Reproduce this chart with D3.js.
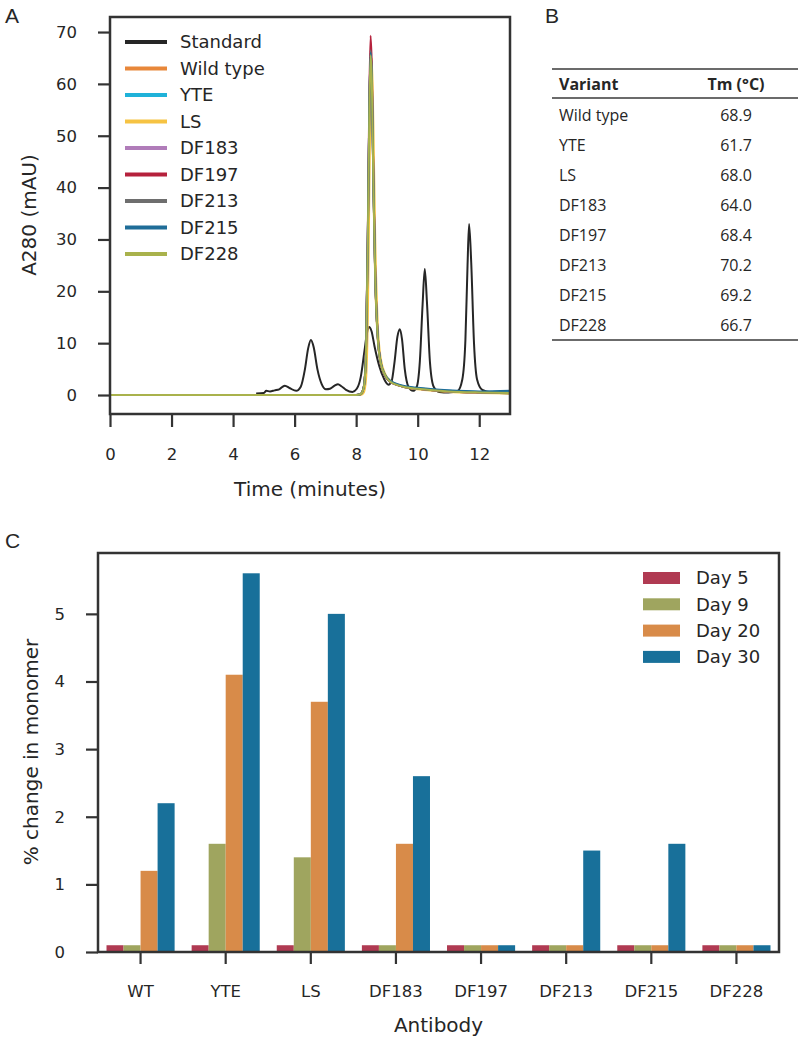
<!DOCTYPE html>
<html><head><meta charset="utf-8">
<script src="https://cdn.jsdelivr.net/npm/d3@7"></script>
<style>
body{margin:0;background:#fff;}
svg{display:block;}
text{font-family:"DejaVu Sans",sans-serif;fill:#262626;}
</style></head>
<body><svg id="c" width="800" height="1038"></svg>
<script>
// ---------- Panel A data ----------
const stdTime = [4.75,5.0,5.08,5.2,5.35,5.5,5.68,5.85,6.05,6.2,6.33,6.44,6.53,6.62,6.74,6.88,7.02,7.15,7.3,7.41,7.52,7.67,7.88,8.02,8.15,8.27,8.36,8.42,8.5,8.6,8.75,8.9,9.05,9.15,9.25,9.34,9.42,9.49,9.58,9.7,9.85,9.97,10.07,10.16,10.23,10.3,10.4,10.52,10.7,11.0,11.3,11.45,11.55,11.62,11.67,11.74,11.83,11.93,12.1,12.4,13.0];
const stdVals = [0.3,0.4,0.8,0.7,0.9,1.1,1.8,1.3,0.8,1.6,4.8,9.0,10.6,9.2,5.0,2.1,1.1,1.2,1.8,2.1,1.7,1.0,0.6,1.2,3.5,8.5,12.2,13.1,12.3,9.3,5.6,3.2,2.0,2.6,6.5,11.2,12.7,10.8,5.0,1.6,0.8,1.6,6.5,17.5,24.3,18.0,6.2,1.6,0.6,0.5,0.8,3.0,10.5,25.0,33.0,25.5,10.0,3.0,1.0,0.5,0.3];

const sampleTime = [0,8.0,8.15,8.25,8.32,8.38,8.43,8.47,8.51,8.56,8.62,8.7,8.8,8.95,9.1,9.3,9.6,10.0,10.5,11.0,12.0,13.0];
const wildTypeVals = [0,0,0.2,1.5,8,30,55,65,60,40,22,11,6,3.6,2.6,2.0,1.5,1.2,0.9,0.7,0.5,0.4];
const yteVals      = [0,0,0.2,1.6,8.5,31,56,66,61,41,23,11.5,6.2,3.7,2.7,2.1,1.6,1.3,1.0,0.8,0.6,0.7];
const lsVals       = [0,0,0,0.5,3,15,40,58,65,52,30,14,7,4,2.8,2.1,1.5,1.1,0.8,0.6,0.4,0.3];
const df183Vals    = [0,0,0.2,1.6,8.5,31,56,66.5,61,41,23,11.5,6.1,3.6,2.6,2.0,1.5,1.2,0.9,0.7,0.5,0.4];
const df197Vals    = [0,0,0.2,1.7,9,32,58,69.3,63,42,23,11.5,6.1,3.6,2.6,2.0,1.5,1.2,0.9,0.7,0.5,0.4];
const df213Vals    = [0,0,0.2,1.6,8.5,31,56,66.5,61,41,23,11.5,6.1,3.6,2.6,2.0,1.5,1.2,0.9,0.7,0.5,0.4];
const df215Vals    = [0,0,0.2,1.6,8.5,31,56,66,61,41,23,11.5,6.3,3.8,2.8,2.2,1.7,1.4,1.1,0.9,0.7,0.8];
const df228Vals    = [0,0,0.2,1.5,8,30,55,65.5,60.5,40.5,22.5,11.2,6.1,3.7,2.6,2.0,1.5,1.2,0.9,0.7,0.5,0.4];

const traceNames  = ["Standard","Wild type","YTE","LS","DF183","DF197","DF213","DF215","DF228"];
const traceColors = ["#262626","#e8873a","#1fb2d9","#f6c343","#b07cb9","#b5213c","#6e6e6e","#1f6d98","#a9b24c"];
const traceTimes  = [stdTime,sampleTime,sampleTime,sampleTime,sampleTime,sampleTime,sampleTime,sampleTime,sampleTime];
const traceVals   = [stdVals,wildTypeVals,yteVals,lsVals,df183Vals,df197Vals,df213Vals,df215Vals,df228Vals];
const xTicksA = [0,2,4,6,8,10,12];
const yTicksA = [0,10,20,30,40,50,60,70];

// ---------- Panel B data ----------
const tableVariants = ["Wild type","YTE","LS","DF183","DF197","DF213","DF215","DF228"];
const tableTm = ["68.9","61.7","68.0","64.0","68.4","70.2","69.2","66.7"];
const tableHeader = ["Variant","Tm (°C)"];

// ---------- Panel C data ----------
const antibodies = ["WT","YTE","LS","DF183","DF197","DF213","DF215","DF228"];
const dayNames = ["Day 5","Day 9","Day 20","Day 30"];
const dayColors = ["#b03a52","#9fa55f","#d88b49","#18709a"];
const day5  = [0.1,0.1,0.1,0.1,0.1,0.1,0.1,0.1];
const day9  = [0.1,1.6,1.4,0.1,0.1,0.1,0.1,0.1];
const day20 = [1.2,4.1,3.7,1.6,0.1,0.1,0.1,0.1];
const day30 = [2.2,5.6,5.0,2.6,0.1,1.5,1.6,0.1];
const dayValues = [day5,day9,day20,day30];
const yTicksC = [0,1,2,3,4,5];

const svg = d3.select("#c");
svg.append("rect").attr("width",800).attr("height",1038).attr("fill","#fff");

// Panel letters
[["A",5,23],["B",545,23],["C",5,548]].forEach(([t,x,y])=>{
  svg.append("text").attr("x",x).attr("y",y).text(t)
    .style("font-family","'Liberation Sans',sans-serif").style("font-size","21px");
});

// ================= Panel A =================
const A = {l:110,t:17,r:510,b:414};
const xA = d3.scaleLinear().domain([0,13]).range([A.l,A.r]);
const yA = d3.scaleLinear().domain([-3.66,72.9]).range([A.b,A.t]);
const gA = svg.append("g");
svg.append("clipPath").attr("id","clipA").append("rect")
  .attr("x",A.l).attr("y",A.t).attr("width",A.r-A.l).attr("height",A.b-A.t);

const line = d3.line().curve(d3.curveMonotoneX);
traceNames.forEach((n,i)=>{
  const pts = traceTimes[i].map((t,j)=>[xA(t), yA(traceVals[i][j])]);
  gA.append("path").attr("d",line(pts)).attr("fill","none")
    .attr("stroke",traceColors[i]).attr("stroke-width",2)
    .attr("clip-path","url(#clipA)");
});

function styleAxis(g){
  g.select(".domain").remove();
  g.selectAll(".tick line").attr("stroke","#333").attr("stroke-width",2.2);
  g.selectAll(".tick text").style("font-size","16.5px").attr("fill","#262626");
}
gA.append("g").attr("transform",`translate(${A.l},0)`)
  .call(d3.axisLeft(yA).tickValues(yTicksA).tickFormat(d3.format("d")).tickSize(12).tickPadding(21)).call(styleAxis);
gA.append("g").attr("transform",`translate(0,${A.b})`)
  .call(d3.axisBottom(xA).tickValues(xTicksA).tickFormat(d3.format("d")).tickSize(13).tickPadding(21)).call(styleAxis);
gA.append("rect").attr("x",A.l).attr("y",A.t).attr("width",A.r-A.l).attr("height",A.b-A.t)
  .attr("fill","none").attr("stroke","#333").attr("stroke-width",2.5);

gA.append("text").attr("x",(A.l+A.r)/2).attr("y",496).attr("text-anchor","middle")
  .style("font-size","20px").text("Time (minutes)");
gA.append("text").attr("transform","translate(36,215) rotate(-90)").attr("text-anchor","middle")
  .style("font-size","20px").text("A280 (mAU)");

// legend A
traceNames.forEach((n,i)=>{
  const y = 42 + i*26.5;
  gA.append("line").attr("x1",125).attr("x2",167).attr("y1",y).attr("y2",y)
    .attr("stroke",traceColors[i]).attr("stroke-width",4);
  gA.append("text").attr("x",180).attr("y",y).attr("dy","0.36em")
    .style("font-size","18px").text(n);
});

// ================= Panel B =================
const gB = svg.append("g");
const tl = 552, tr = 798;
[[69,1.5],[98,1.3],[340,1.5]].forEach(([y,w])=>{
  gB.append("line").attr("x1",tl).attr("x2",tr).attr("y1",y).attr("y2",y)
    .attr("stroke","#3a3a3a").attr("stroke-width",w);
});
gB.append("text").attr("x",559).attr("y",90).text(tableHeader[0])
  .style("font-family","'Open Sans',sans-serif").style("font-size","16px").style("font-weight","bold");
gB.append("text").attr("x",736).attr("y",90).attr("text-anchor","middle").text(tableHeader[1])
  .style("font-family","'Open Sans',sans-serif").style("font-size","16px").style("font-weight","bold");
tableVariants.forEach((v,i)=>{
  const y = 120.5 + i*30;
  gB.append("text").attr("x",559).attr("y",y).text(v)
    .style("font-family","'Open Sans',sans-serif").style("font-size","16px");
  gB.append("text").attr("x",736).attr("y",y).attr("text-anchor","middle").text(tableTm[i])
    .style("font-family","'Open Sans',sans-serif").style("font-size","16px");
});

// ================= Panel C =================
const C = {l:98,t:553,r:779,b:952};
const xC = d3.scaleBand().domain(antibodies).range([C.l,C.r]).paddingInner(0).paddingOuter(0);
const yC = d3.scaleLinear().domain([0,5.9]).range([C.b,C.t]);
const xSub = d3.scaleBand().domain(dayNames).range([0,xC.bandwidth()*0.8]);
const gC = svg.append("g");
antibodies.forEach((a,i)=>{
  const g0 = xC(a) + xC.bandwidth()*0.1;
  dayNames.forEach((d,k)=>{
    const v = dayValues[k][i];
    gC.append("rect").attr("x",g0+xSub(d)).attr("width",xSub.bandwidth())
      .attr("y",yC(v)).attr("height",yC(0)-yC(v)).attr("fill",dayColors[k]);
  });
});
gC.append("g").attr("transform",`translate(${C.l},0)`)
  .call(d3.axisLeft(yC).tickValues(yTicksC).tickFormat(d3.format("d")).tickSize(12).tickPadding(21)).call(styleAxis);
gC.append("g").attr("transform",`translate(0,${C.b})`)
  .call(d3.axisBottom(xC).tickSize(12).tickPadding(21)).call(styleAxis);
gC.append("rect").attr("x",C.l).attr("y",C.t).attr("width",C.r-C.l).attr("height",C.b-C.t)
  .attr("fill","none").attr("stroke","#333").attr("stroke-width",2.5);
gC.append("text").attr("x",(C.l+C.r)/2).attr("y",1032).attr("text-anchor","middle")
  .style("font-size","20px").text("Antibody");
gC.append("text").attr("transform","translate(38,752) rotate(-90)").attr("text-anchor","middle")
  .style("font-size","20px").text("% change in monomer");

dayNames.forEach((d,k)=>{
  const y = 578 + k*26.3;
  gC.append("rect").attr("x",643).attr("y",y-6).attr("width",37).attr("height",12).attr("fill",dayColors[k]);
  gC.append("text").attr("x",696).attr("y",y).attr("dy","0.36em").style("font-size","18px").text(d);
});
</script></body></html>
